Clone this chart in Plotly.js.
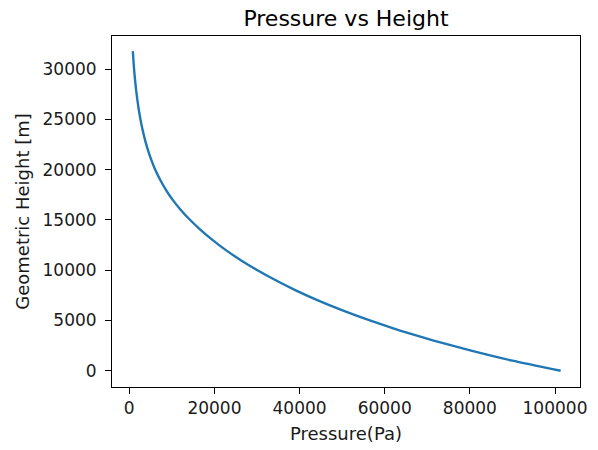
<!DOCTYPE html>
<html>
<head>
<meta charset="utf-8">
<script src="https://cdn.plot.ly/plotly-3.0.1.min.js"></script>
<style>html,body{margin:0;padding:0;background:#fff;}#chart{width:598px;height:450px;}</style>
</head>
<body>
<div id="chart"></div>
<script>
// Pressure (Pa), at each geometric height (m)
const heights = [0, 1000, 2000, 3000, 4000, 5000, 6000, 7000, 8000, 9000,
  10000, 11000, 12000, 13000, 14000, 15000, 16000, 17000, 18000, 19000,
  20000, 21000, 22000, 23000, 24000, 25000, 26000, 27000, 28000, 29000,
  30000, 31000, 31800];
const pressures = [101325, 90000, 80300, 71500, 63600, 56500, 50100, 44300, 39100, 34400,
  30100, 26200, 22700, 19600, 16800, 14300, 12100, 10200, 8600, 7250,
  6100, 5150, 4350, 3680, 3110, 2630, 2220, 1880, 1590, 1340,
  1130, 955, 830];

const chartTitle = 'Pressure vs Height';
const xTitle = 'Pressure(Pa)';
const yTitle = 'Geometric Height [m]';
const xTicks = [0, 20000, 40000, 60000, 80000, 100000];
const yTicks = [0, 5000, 10000, 15000, 20000, 25000, 30000];

const font = 'DejaVu Sans, sans-serif';
const axisCommon = {
  showline: true, mirror: true, linecolor: '#000', linewidth: 1,
  ticks: 'outside', ticklen: 6, tickwidth: 1, tickcolor: '#000',
  showgrid: false, zeroline: false,
  tickfont: {family: font, size: 17, color: '#1a1a1a'},
  tickmode: 'array'
};

Plotly.newPlot('chart', [{
  x: pressures, y: heights, type: 'scatter', mode: 'lines',
  line: {color: '#1f77b4', width: 2.4, shape: 'spline', smoothing: 0.6},
  hoverinfo: 'none'
}], {
  width: 598, height: 450,
  margin: {l: 112, r: 18, t: 36, b: 63, pad: 0},
  paper_bgcolor: '#fff', plot_bgcolor: '#fff',
  showlegend: false,
  title: {text: chartTitle, font: {family: font, size: 22, color: '#000'},
          x: 0.5, xref: 'paper', y: 1, yref: 'paper', yanchor: 'bottom', pad: {b: 10}},
  xaxis: Object.assign({}, axisCommon, {
    range: [-4060, 105870], tickvals: xTicks, ticktext: xTicks.map(String),
    title: {text: xTitle, font: {family: font, size: 18, color: '#1a1a1a'}, standoff: 9}
  }),
  yaxis: Object.assign({}, axisCommon, {
    range: [-1620, 33310], tickvals: yTicks, ticktext: yTicks.map(String),
    ticklabelstandoff: 5,
    title: {text: yTitle, font: {family: font, size: 18, color: '#1a1a1a'}, standoff: 8}
  })
}, {staticPlot: true, displayModeBar: false});
</script>
</body>
</html>
